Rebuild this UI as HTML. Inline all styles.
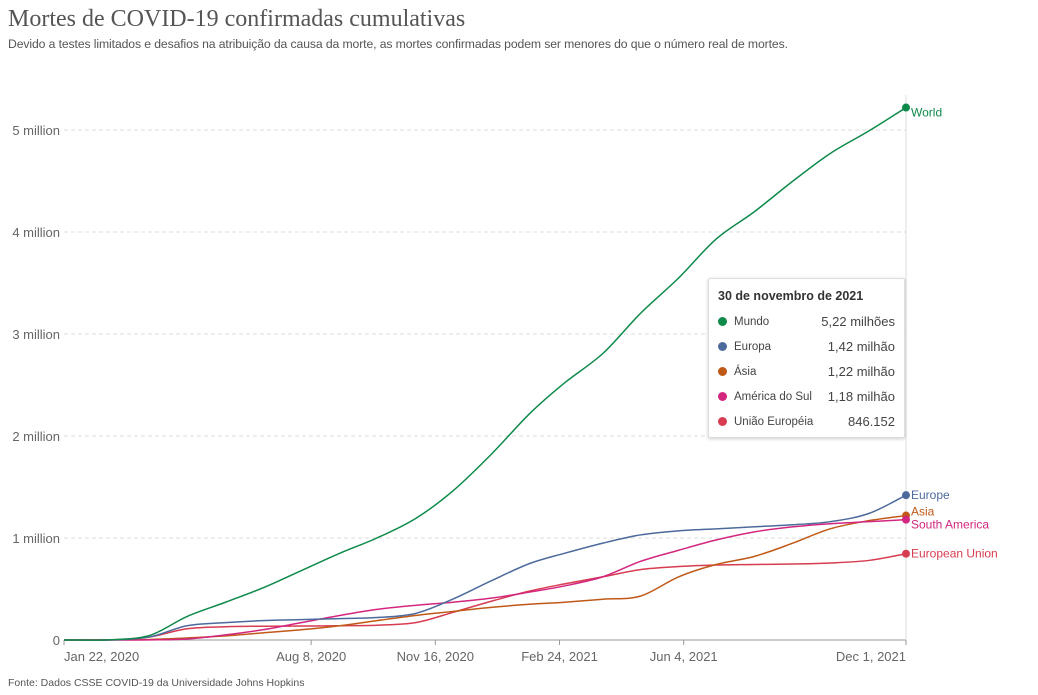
<!DOCTYPE html>
<html><head><meta charset="utf-8"><style>
body{margin:0;background:#fff;width:1038px;height:695px;overflow:hidden;font-family:"Liberation Sans",sans-serif;}
#title{position:absolute;left:8px;top:6px;font-family:"Liberation Serif",serif;font-size:24px;color:#555;}
#sub{position:absolute;left:8px;top:37px;font-size:12.2px;color:#555;letter-spacing:-0.1px;}
#src{position:absolute;left:8px;top:677px;font-size:10.5px;color:#555;}
#tip{position:absolute;left:708px;top:278px;width:195px;height:158px;background:#fff;border:1px solid #ddd;box-shadow:0 1px 3px rgba(0,0,0,.2);border-radius:2px;font-size:12px;color:#333;}
#tip .h{position:absolute;left:9px;top:10px;font-weight:bold;font-size:12.5px;}
.r{position:absolute;left:9px;width:177px;height:16px;}
.r .d{position:absolute;left:0;top:3px;width:9px;height:9px;border-radius:50%;}
.r .n{position:absolute;left:16px;top:2px;font-size:11.5px;color:#444;}
.r .v{position:absolute;right:0;top:0;font-size:13px;color:#444;}
</style></head><body>
<div id="title">Mortes de COVID-19 confirmadas cumulativas</div>
<div id="sub">Devido a testes limitados e desafios na atribuição da causa da morte, as mortes confirmadas podem ser menores do que o número real de mortes.</div>
<svg id="chart" width="1038" height="695" style="position:absolute;left:0;top:0"></svg>
<div id="tip">
<div class="h">30 de novembro de 2021</div>
<div class="r" style="top:35px"><span class="d" style="background:#0e8a4a"></span><span class="n">Mundo</span><span class="v">5,22 milhões</span></div>
<div class="r" style="top:60px"><span class="d" style="background:#4c6a9c"></span><span class="n">Europa</span><span class="v">1,42 milhão</span></div>
<div class="r" style="top:85px"><span class="d" style="background:#c05917"></span><span class="n">Ásia</span><span class="v">1,22 milhão</span></div>
<div class="r" style="top:110px"><span class="d" style="background:#d3267f"></span><span class="n">América do Sul</span><span class="v">1,18 milhão</span></div>
<div class="r" style="top:135px"><span class="d" style="background:#d73c50"></span><span class="n">União Européia</span><span class="v">846.152</span></div>
</div>
<div id="src">Fonte: Dados CSSE COVID-19 da Universidade Johns Hopkins</div>
<script>
const dates=["2020-01-22","2020-02-29","2020-03-31","2020-04-30","2020-05-31","2020-06-30","2020-07-31","2020-08-31","2020-09-30","2020-10-31","2020-11-30","2020-12-31","2021-01-31","2021-02-28","2021-03-31","2021-04-30","2021-05-31","2021-06-30","2021-07-31","2021-08-31","2021-09-30","2021-10-31","2021-11-30"];
const world=[0,0.003,0.045,0.23,0.37,0.51,0.68,0.85,1.0,1.19,1.46,1.82,2.22,2.52,2.81,3.2,3.55,3.93,4.2,4.5,4.77,4.99,5.22];
const europe=[0,0.001,0.03,0.14,0.17,0.19,0.2,0.21,0.22,0.26,0.40,0.58,0.75,0.85,0.95,1.03,1.07,1.09,1.11,1.13,1.16,1.24,1.42];
const asia=[0,0.003,0.005,0.02,0.04,0.07,0.1,0.14,0.19,0.24,0.28,0.32,0.35,0.37,0.40,0.43,0.62,0.74,0.82,0.95,1.09,1.17,1.22];
const southAmerica=[0,0,0.001,0.01,0.05,0.10,0.17,0.24,0.30,0.34,0.37,0.41,0.47,0.53,0.62,0.77,0.88,0.98,1.06,1.11,1.14,1.16,1.18];
const eu=[0,0.001,0.03,0.11,0.13,0.135,0.137,0.14,0.145,0.17,0.27,0.38,0.48,0.55,0.62,0.69,0.72,0.735,0.74,0.745,0.755,0.78,0.846];
const yTicks=[0,1,2,3,4,5];
const yTickLabels=["0","1 million","2 million","3 million","4 million","5 million"];
const xTickDates=["2020-01-22","2020-08-08","2020-11-16","2021-02-24","2021-06-04","2021-12-01"];
const xTickLabels=["Jan 22, 2020","Aug 8, 2020","Nov 16, 2020","Feb 24, 2021","Jun 4, 2021","Dec 1, 2021"];
const seriesNames=["World","Europe","Asia","South America","European Union"];

const svg=document.getElementById('chart');const NS="http://www.w3.org/2000/svg";
const t0=Date.parse("2020-01-22"),t1=Date.parse("2021-11-30");
const X0=64,X1=906,Y0=640,PPM=102;
const x=d=>X0+(Date.parse(d)-t0)/(t1-t0)*(X1-X0);
const y=v=>Y0-v*PPM;
function mk(tag,attrs,txt){const e=document.createElementNS(NS,tag);for(const k in attrs)e.setAttribute(k,attrs[k]);if(txt!=null)e.textContent=txt;svg.appendChild(e);return e;}
yTicks.forEach((v,i)=>{
  if(v>0){const g=mk('line',{x1:X0,x2:X1,y1:y(v),y2:y(v),stroke:'#ddd','stroke-dasharray':'4,3'});
  
  }
  const t=mk('text',{x:60,y:y(v)+5,'text-anchor':'end','font-size':13,fill:'#666'},yTickLabels[i]);
  
  
});
const ax=mk('line',{x1:X0,x2:X1,y1:Y0,y2:Y0,stroke:'#999'});


const vl=mk('line',{x1:X1,x2:X1,y1:95,y2:Y0,stroke:'#ddd'});


xTickDates.forEach((d,i)=>{
  const xx=Math.min(x(d),X1);
  const tk=mk('line',{x1:xx,x2:xx,y1:Y0,y2:Y0+5,stroke:'#999'});
  
  
  const anc=i==0?'start':(i==xTickDates.length-1?'end':'middle');
  const t=mk('text',{x:xx,y:661,'text-anchor':anc,'font-size':13,fill:'#666'},xTickLabels[i]);
  
  
});
function path(vals){
  const p=dates.map((d,i)=>[x(d),y(vals[i])]);
  let s=`M${p[0][0]},${p[0][1]}`;
  for(let i=0;i<p.length-1;i++){
    const a=p[Math.max(i-1,0)],b=p[i],c=p[i+1],e=p[Math.min(i+2,p.length-1)];
    const c1=[b[0]+(c[0]-a[0])/6,b[1]+(c[1]-a[1])/6],c2=[c[0]-(e[0]-b[0])/6,c[1]-(e[1]-b[1])/6];
    s+=`C${c1[0]},${c1[1]} ${c2[0]},${c2[1]} ${c[0]},${c[1]}`;
  }
  return s;
}
const all=[world,europe,asia,southAmerica,eu];
const cols=["#0e8a4a","#4c6a9c","#c05917","#d3267f","#d73c50"];
const labOff=[5,0,-4,5,0];
const keys=["world","europe","asia","south-america","european-union"];
[4,2,3,1,0].forEach(k=>{
  const vals=all[k];
  const ln=mk('path',{d:path(vals),fill:'none',stroke:cols[k],'stroke-width':1.5});
  
  
  const last=vals[vals.length-1];
  const dt=mk('circle',{cx:X1,cy:y(last),r:4,fill:cols[k]});
  
  
  const lb=mk('text',{x:X1+5,y:y(last)+4+labOff[k],'font-size':12,fill:cols[k]},seriesNames[k]);
  
  
});
</script>
</body></html>
